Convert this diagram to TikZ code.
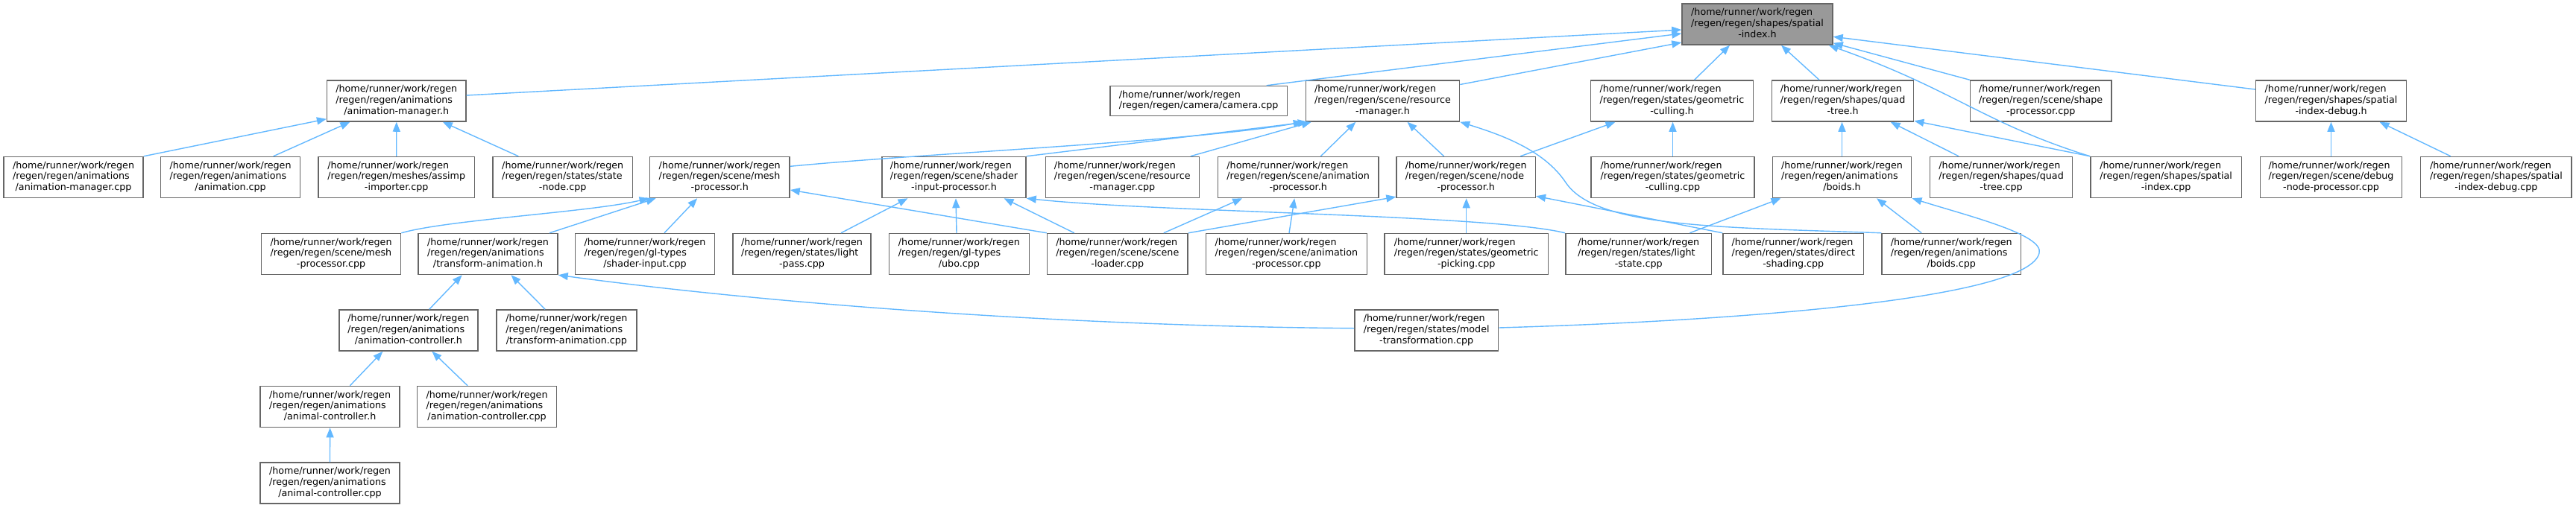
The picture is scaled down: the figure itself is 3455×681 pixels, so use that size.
\documentclass[tikz,border=0pt]{standalone}
\usepackage{fontspec}
\setmainfont{DejaVu Sans}
\usetikzlibrary{arrows.meta}
\definecolor{boxgray}{HTML}{666666}
\definecolor{rootfill}{HTML}{999999}
\definecolor{edgeblue}{HTML}{63B8FF}
\newcommand{\dxfont}{\fontsize{12.7}{14.7}\selectfont}
\newcommand{\tlab}[2]{\begin{tabular}{@{}l@{}}/home/runner/work/regen\\#1\\\multicolumn{1}{@{}c@{}}{#2}\end{tabular}}
\tikzset{
  box/.style={draw=boxgray, line width=1.5pt, fill=white, minimum height=55, inner sep=0pt, font=\dxfont},
  rootbox/.style={box, fill=rootfill},
  edge/.style={draw=edgeblue, line width=1.4pt, -{Triangle[length=13pt,width=10pt]}},
}
\begin{document}
\begin{tikzpicture}[x=1pt,y=-1pt]
\useasboundingbox (0,0) rectangle (3455,681);
% row 0
\node[rootbox, minimum width=202] (root) at (2357,32.5) {\tlab{/regen/regen/shapes/spatial}{-index.h}};
% row 1
\node[box, minimum width=186.3] (am_h) at (531.8,135.5) {\tlab{/regen/regen/animations}{/animation-manager.h}};
\node[box, minimum width=237.7, minimum height=40] (cam) at (1607.6,135.5) {\begin{tabular}{@{}l@{}}/home/runner/work/regen\\/regen/regen/camera/camera.cpp\end{tabular}};
\node[box, minimum width=206] (rm_h) at (1854.5,135.5) {\tlab{/regen/regen/scene/resource}{-manager.h}};
\node[box, minimum width=218] (gc_h) at (2242.5,135.5) {\tlab{/regen/regen/states/geometric}{-culling.h}};
\node[box, minimum width=190] (qt_h) at (2471.6,135.5) {\tlab{/regen/regen/shapes/quad}{-tree.h}};
\node[box, minimum width=189.3] (sp_cpp) at (2737.2,135.5) {\tlab{/regen/regen/scene/shape}{-processor.cpp}};
\node[box, minimum width=201.8] (sid_h) at (3126.5,135.5) {\tlab{/regen/regen/shapes/spatial}{-index-debug.h}};
% row 2
\node[box, minimum width=187] (am_cpp) at (98.6,238) {\tlab{/regen/regen/animations}{/animation-manager.cpp}};
\node[box, minimum width=187] (anim_cpp) at (309.1,238) {\tlab{/regen/regen/animations}{/animation.cpp}};
\node[box, minimum width=209.8] (assimp) at (531.7,238) {\tlab{/regen/regen/meshes/assimp}{-importer.cpp}};
\node[box, minimum width=187.8] (sn_cpp) at (754.7,238) {\tlab{/regen/regen/states/state}{-node.cpp}};
\node[box, minimum width=187.7] (mp_h) at (965.2,238) {\tlab{/regen/regen/scene/mesh}{-processor.h}};
\node[box, minimum width=193] (sip_h) at (1279.5,238) {\tlab{/regen/regen/scene/shader}{-input-processor.h}};
\node[box, minimum width=206] (rm_cpp) at (1505.3,238) {\tlab{/regen/regen/scene/resource}{-manager.cpp}};
\node[box, minimum width=215.7] (ap_h) at (1741.2,238) {\tlab{/regen/regen/scene/animation}{-processor.h}};
\node[box, minimum width=186.3] (np_h) at (1966.2,238) {\tlab{/regen/regen/scene/node}{-processor.h}};
\node[box, minimum width=219] (gc_cpp) at (2243.5,238) {\tlab{/regen/regen/states/geometric}{-culling.cpp}};
\node[box, minimum width=186.4] (boids_h) at (2470.5,238) {\tlab{/regen/regen/animations}{/boids.h}};
\node[box, minimum width=190.8] (qt_cpp) at (2684.1,238) {\tlab{/regen/regen/shapes/quad}{-tree.cpp}};
\node[box, minimum width=202.6] (si_cpp) at (2905.1,238) {\tlab{/regen/regen/shapes/spatial}{-index.cpp}};
\node[box, minimum width=190] (dnp_cpp) at (3126.5,238) {\tlab{/regen/regen/scene/debug}{-node-processor.cpp}};
\node[box, minimum width=202.5] (sid_cpp) at (3347.9,238) {\tlab{/regen/regen/shapes/spatial}{-index-debug.cpp}};
% row 3
\node[box, minimum width=187] (mp_cpp) at (444.1,341) {\tlab{/regen/regen/scene/mesh}{-processor.cpp}};
\node[box, minimum width=187] (ta_h) at (654.5,341) {\tlab{/regen/regen/animations}{/transform-animation.h}};
\node[box, minimum width=187] (si_in) at (865,341) {\tlab{/regen/regen/gl-types}{/shader-input.cpp}};
\node[box, minimum width=185] (lp_cpp) at (1075.5,341) {\tlab{/regen/regen/states/light}{-pass.cpp}};
\node[box, minimum width=187.8] (ubo) at (1286.4,341) {\tlab{/regen/regen/gl-types}{/ubo.cpp}};
\node[box, minimum width=188.5] (sl_cpp) at (1498.8,341) {\tlab{/regen/regen/scene/scene}{-loader.cpp}};
\node[box, minimum width=216.3] (ap_cpp) at (1725.4,341) {\tlab{/regen/regen/scene/animation}{-processor.cpp}};
\node[box, minimum width=219.3] (gp_cpp) at (1966.7,341) {\tlab{/regen/regen/states/geometric}{-picking.cpp}};
\node[box, minimum width=195.8] (ls_cpp) at (2197.7,341) {\tlab{/regen/regen/states/light}{-state.cpp}};
\node[box, minimum width=188.6] (ds_cpp) at (2405.3,341) {\tlab{/regen/regen/states/direct}{-shading.cpp}};
\node[box, minimum width=186.3] (boids_cpp) at (2617.2,341) {\tlab{/regen/regen/animations}{/boids.cpp}};
% row 4
\node[box, minimum width=186.3] (ac_h) at (547.9,443.5) {\tlab{/regen/regen/animations}{/animation-controller.h}};
\node[box, minimum width=187.7] (ta_cpp) at (759.9,443.5) {\tlab{/regen/regen/animations}{/transform-animation.cpp}};
\node[box, minimum width=192.9] (mt_cpp) at (1913.2,443.5) {\tlab{/regen/regen/states/model}{-transformation.cpp}};
% row 5
\node[box, minimum width=187] (alc_h) at (442.6,546) {\tlab{/regen/regen/animations}{/animal-controller.h}};
\node[box, minimum width=187] (ac_cpp) at (653.1,546) {\tlab{/regen/regen/animations}{/animation-controller.cpp}};
% row 6
\node[box, minimum width=187] (alc_cpp) at (442.5,648.5) {\tlab{/regen/regen/animations}{/animal-controller.cpp}};

% edges to root
\draw[edge] ([yshift=7.5]am_h.east) -- ([yshift=-7.5]root.west);
\draw[edge] ([xshift=91]cam.north) -- ([yshift=-12.5]root.west);
\draw[edge] ([yshift=22]rm_h.east) -- ([yshift=-24.5]root.west);
\draw[edge] ([xshift=30]gc_h.north) -- ([xshift=-37]root.south);
\draw[edge] ([xshift=-31.6]qt_h.north) -- ([xshift=32]root.south);
\draw[edge] (sp_cpp.north west) -- ([yshift=3]root.south east);
\draw[edge] (si_cpp.north west) .. controls (2660,165) and (2620,120) .. ([xshift=-6]root.south east);
\draw[edge] ([yshift=15.5]sid_h.west) -- ([yshift=-16.8]root.east);
% animation-manager.h
\draw[edge] (am_cpp.north east) -- ([yshift=4]am_h.south west);
\draw[edge] ([xshift=57.6]anim_cpp.north) -- ([xshift=-62.4]am_h.south);
\draw[edge] (assimp.north) -- (am_h.south);
\draw[edge] ([xshift=-59.4]sn_cpp.north) -- ([xshift=62]am_h.south);
% resource-manager.h
\draw[edge] ([yshift=14.7]mp_h.east) .. controls (1250,205) and (1600,190) .. ([xshift=-3]rm_h.south west);
\draw[edge] (sip_h.north east) -- ([xshift=3]rm_h.south west);
\draw[edge] ([xshift=91.5]rm_cpp.north) -- ([xshift=8]rm_h.south west);
\draw[edge] ([xshift=30.2]ap_h.north) -- ([xshift=-36.2]rm_h.south);
\draw[edge] ([xshift=-29.6]np_h.north) -- ([xshift=33]rm_h.south);
\draw[edge] (boids_cpp.north west) .. controls (2300,305) and (2140,305) .. (2100,245) .. controls (2070,200) and (2010,180) .. (rm_h.south east);
% geometric-culling.h
\draw[edge] ([xshift=73]np_h.north) -- ([xshift=-76]gc_h.south);
\draw[edge] (gc_cpp.north) -- (gc_cpp.north |- gc_h.south);
% quad-tree.h
\draw[edge] (boids_h.north) -- (boids_h.north |- qt_h.south);
\draw[edge] ([xshift=-57]qt_cpp.north) -- ([xshift=64]qt_h.south);
\draw[edge] (si_cpp.north west) -- ([yshift=1.5]qt_h.south east);
% spatial-index-debug.h
\draw[edge] (dnp_cpp.north) -- (dnp_cpp.north |- sid_h.south);
\draw[edge] ([xshift=-61]sid_cpp.north) -- ([xshift=65]sid_h.south);
% mesh-processor.h
\draw[edge] (mp_cpp.north east) .. controls (600,295) and (790,285) .. (mp_h.south west);
\draw[edge] ([xshift=82.5]ta_h.north) -- ([xshift=9]mp_h.south west);
\draw[edge] ([xshift=26]si_in.north) -- ([xshift=-30]mp_h.south);
\draw[edge] (sl_cpp.north west) -- ([yshift=-17]mp_h.east);
% shader-input-processor.h
\draw[edge] ([xshift=52.5]lp_cpp.north) -- ([xshift=-62]sip_h.south);
\draw[edge] ([xshift=-3.4]ubo.north) -- ([xshift=2.5]sip_h.south);
\draw[edge] ([xshift=-58]sl_cpp.north) -- ([xshift=67]sip_h.south);
\draw[edge] (ls_cpp.north west) .. controls (2000,288) and (1550,285) .. (sip_h.south east);
% animation-processor.h
\draw[edge] ([xshift=62]sl_cpp.north) -- ([xshift=-75]ap_h.south);
\draw[edge] ([xshift=3.6]ap_cpp.north) -- ([xshift=-5]ap_h.south);
% node-processor.h
\draw[edge] (sl_cpp.north east) -- ([yshift=2]np_h.south west);
\draw[edge] (gp_cpp.north) -- (gp_cpp.north |- np_h.south);
\draw[edge] (ds_cpp.north west) -- ([yshift=3]np_h.south east);
% boids.h
\draw[edge] ([xshift=68.6]ls_cpp.north) -- ([xshift=-82]boids_h.south);
\draw[edge] ([xshift=-40]boids_cpp.north) -- ([xshift=46.5]boids_h.south);
\draw[edge] ([yshift=3.5]mt_cpp.east) .. controls (2350,430) and (2720,400) .. (2735,340) .. controls (2742,315) and (2640,290) .. (boids_h.south east);
% transform-animation.h
\draw[edge] ([xshift=27.8]ac_h.north) -- ([xshift=-34.8]ta_h.south);
\draw[edge] ([xshift=-28.7]ta_cpp.north) -- ([xshift=31]ta_h.south);
\draw[edge] ([yshift=2.8]mt_cpp.west) .. controls (1450,438) and (1050,410) .. (ta_h.south east);
% animation-controller.h
\draw[edge] ([xshift=26.8]alc_h.north) -- ([xshift=-34.5]ac_h.south);
\draw[edge] ([xshift=-26]ac_cpp.north) -- ([xshift=31.5]ac_h.south);
% animal-controller.h
\draw[edge] (alc_cpp.north) -- (alc_h.south);
\end{tikzpicture}
\end{document}
